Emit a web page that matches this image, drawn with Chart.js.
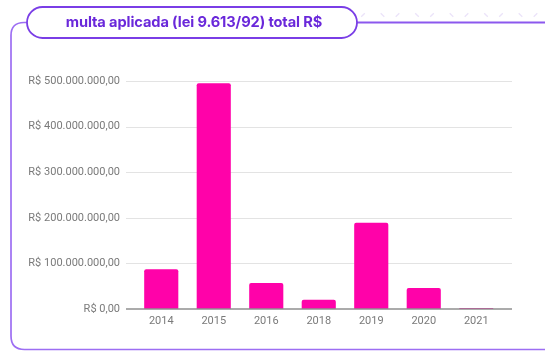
<!DOCTYPE html>
<html>
<head>
<meta charset="utf-8">
<script src="https://cdn.jsdelivr.net/npm/chart.js@4"></script>
<style>
  html, body { margin: 0; padding: 0; background: #ffffff; }
  #wrap { position: relative; width: 545px; height: 358px; overflow: hidden; }
  #frame { position: absolute; left: 0; top: 0; }
  #title { position: absolute; left: 29px; top: 7px; width: 330px; height: 31px; line-height: 31px;
           text-align: center; font-family: Inter, "Noto Sans", sans-serif; font-weight: 700; font-size: 14.6px;
           color: #6a28da; letter-spacing: -0.1px; }
  #c { position: absolute; left: 0; top: 0; }
</style>
</head>
<body>
<div id="wrap">
  <svg id="frame" width="545" height="358" xmlns="http://www.w3.org/2000/svg"></svg>
  <canvas id="c" width="545" height="358"></canvas>
  <div id="title">multa aplicada (lei 9.613/92) total R$</div>
</div>
<script>
const categories = ['2014', '2015', '2016', '2018', '2019', '2020', '2021'];
const values = [87000000, 495000000, 57000000, 20500000, 189000000, 46000000, 2000000];
const yTicks = [0, 100000000, 200000000, 300000000, 400000000, 500000000];
const tickLabels = ['R$ 0,00', 'R$ 100.000.000,00', 'R$ 200.000.000,00', 'R$ 300.000.000,00', 'R$ 400.000.000,00', 'R$ 500.000.000,00'];

// frame decoration
(function () {
  const svg = document.getElementById('frame');
  const NS = 'http://www.w3.org/2000/svg';
  function el(tag, attrs) {
    const e = document.createElementNS(NS, tag);
    for (const k in attrs) e.setAttribute(k, attrs[k]);
    svg.appendChild(e);
    return e;
  }
  el('path', { d: 'M 27 22.5 H 24 Q 11 22.5 11 35.5 V 336 Q 11 349.5 24.5 349.5 H 546', fill: 'none', stroke: '#9d6ef3', 'stroke-width': 1.7 });
  el('path', { d: 'M 357 22.5 H 546', fill: 'none', stroke: '#8c58ee', 'stroke-width': 1.8 });
  el('rect', { x: 27, y: 7, width: 330, height: 31, rx: 15.5, ry: 15.5, fill: '#ffffff', stroke: '#7a3ee6', 'stroke-width': 1.8 });
  for (let k = 0; k < 6; k++) {
    const a = 348 + 34.5 * k, b = 363 + 34.5 * k;
    if (a > 360) el('line', { x1: a - 1.8, y1: 13.2, x2: a + 1.8, y2: 16.8, stroke: '#ebe3f9', 'stroke-width': 1.3 });
    el('line', { x1: b - 1.8, y1: 16.8, x2: b + 1.8, y2: 13.2, stroke: '#ebe3f9', 'stroke-width': 1.3 });
  }
})();

const gridPlugin = {
  id: 'extGrid',
  beforeDatasetsDraw(chart) {
    const { ctx, chartArea, scales } = chart;
    const y = scales.y;
    ctx.save();
    yTicks.forEach(v => {
      if (v === 0) { return; }
      const py = Math.round(y.getPixelForValue(v)) + 0.5;
      ctx.beginPath();
      ctx.strokeStyle = '#e3e3e3';
      ctx.lineWidth = 1;
      ctx.moveTo(chartArea.left - 9, py);
      ctx.lineTo(chartArea.right + 9.5, py);
      ctx.stroke();
    });
    ctx.restore();
  },
  afterDatasetsDraw(chart) {
    const { ctx, chartArea, scales } = chart;
    const py = scales.y.getPixelForValue(0);
    ctx.save();
    ctx.strokeStyle = '#8f8f8f';
    ctx.lineWidth = 1.5;
    ctx.beginPath();
    ctx.moveTo(chartArea.left - 9, py);
    ctx.lineTo(chartArea.right + 9.5, py);
    ctx.stroke();
    ctx.restore();
  }
};

new Chart(document.getElementById('c'), {
  type: 'bar',
  data: {
    labels: categories,
    datasets: [{
      data: values,
      backgroundColor: '#ff02a9',
      borderRadius: { topLeft: 2, topRight: 2 },
      borderSkipped: 'bottom',
      categoryPercentage: 1,
      barPercentage: 0.65
    }]
  },
  options: {
    responsive: false,
    animation: false,
    devicePixelRatio: 1,
    layout: { padding: { top: 81, right: 42.5, left: 0, bottom: 0 } },
    plugins: { legend: { display: false }, tooltip: { enabled: false } },
    scales: {
      x: {
        grid: { display: false, drawTicks: false },
        border: { display: false },
        ticks: { color: '#7a7a7a', font: { family: 'Roboto', size: 11 }, padding: 6, maxRotation: 0 },
        afterFit(s) { s.height = 49; }
      },
      y: {
        min: 0, max: 500000000,
        afterBuildTicks(s) { s.ticks = yTicks.map(v => ({ value: v })); },
        grid: { display: false, drawTicks: false },
        border: { display: false },
        ticks: {
          color: '#7a7a7a', font: { family: 'Roboto', size: 11 }, padding: 15,
          callback(v) { const i = yTicks.indexOf(v); return i >= 0 ? tickLabels[i] : ''; }
        },
        afterFit(s) { s.width = 135; }
      }
    }
  },
  plugins: [gridPlugin]
});
</script>
</body>
</html>
